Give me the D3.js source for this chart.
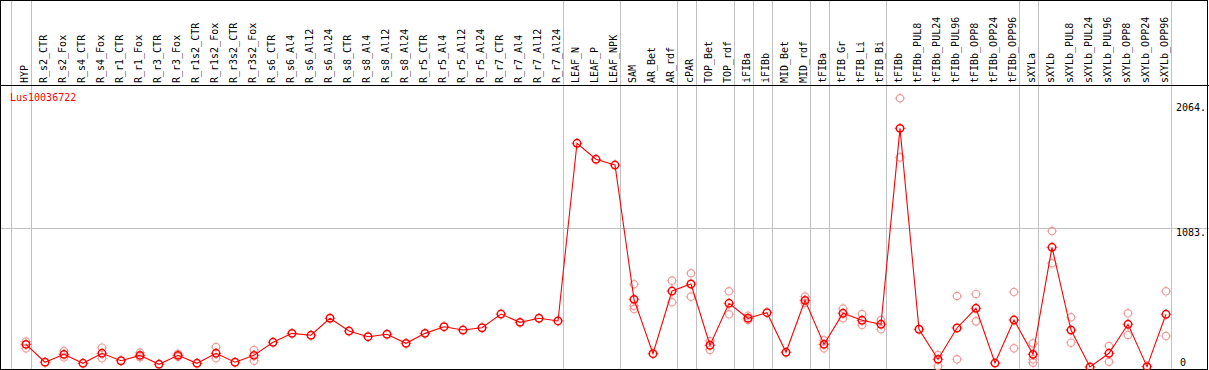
<!DOCTYPE html>
<html>
<head>
<meta charset="utf-8">
<script src="https://cdn.jsdelivr.net/npm/d3@7"></script>
<style>
  html, body { margin: 0; padding: 0; background: #fff; }
  svg { display: block; }
  text { font-family: "DejaVu Sans Mono", "Liberation Mono", monospace; font-size: 10px; }
</style>
</head>
<body>
<div id="chart"></div>
<script>
// sample names (one column each)
const samples = ["HYP",
  "R_s2_CTR", "R_s2_Fox", "R_s4_CTR", "R_s4_Fox", "R_r1_CTR", "R_r1_Fox", "R_r3_CTR", "R_r3_Fox",
  "R_r1s2_CTR", "R_r1s2_Fox", "R_r3s2_CTR", "R_r3s2_Fox",
  "R_s6_CTR", "R_s6_Al4", "R_s6_Al12", "R_s6_Al24", "R_s8_CTR", "R_s8_Al4", "R_s8_Al12", "R_s8_Al24",
  "R_r5_CTR", "R_r5_Al4", "R_r5_Al12", "R_r5_Al24", "R_r7_CTR", "R_r7_Al4", "R_r7_Al12", "R_r7_Al24",
  "LEAF_N", "LEAF_P", "LEAF_NPK", "SAM", "AR_Bet", "AR_rdf", "cPAR", "TOP_Bet", "TOP_rdf",
  "iFIBa", "iFIBb", "MID_Bet", "MID_rdf", "tFIBa", "tFIB_Gr", "tFIB_Li", "tFIB_Bi",
  "tFIBb", "tFIBb_PUL8", "tFIBb_PUL24", "tFIBb_PUL96", "tFIBb_OPP8", "tFIBb_OPP24", "tFIBb_OPP96",
  "sXYLa", "sXYLb", "sXYLb_PUL8", "sXYLb_PUL24", "sXYLb_PUL96", "sXYLb_OPP8", "sXYLb_OPP24", "sXYLb_OPP96"];

// mean expression per sample
const means = [177,
  37, 99, 29, 107, 49, 91, 21, 91,
  29, 107, 37, 91,
  193, 263, 248, 381, 281, 237, 256, 185,
  263, 315, 289, 307, 414, 349, 381, 360,
  1749, 1624, 1579, 529, 104, 594, 649, 170, 498,
  381, 425, 115, 521, 177, 420, 365, 334,
  1866, 295, 60, 305, 459, 31, 367,
  99, 936, 289, 0, 107, 334, 3, 412];

// individual replicates (only where they show apart from the mean)
const replicates = [[198, 146],
  [], [125, 76], [], [151, 68], [], [112, 76], [], [104, 80],
  [], [156, 68], [], [133, 49],
  [], [], [], [], [], [], [], [],
  [], [], [], [], [], [], [], [],
  [], [], [], [647, 479, 453], [], [675, 506], [733, 550], [203, 133], [592, 412],
  [401, 367], [], [], [550, 500], [208, 146], [456, 381], [414, 328], [367, 295],
  [2101, 1639], [], [94, 8], [555, 60], [571, 357], [], [586, 146],
  [185, 60, 34], [1063, 811], [389, 190], [], [164, 41], [420, 250], [], [592, 242]];

// group separators: index of the last column of each group (-1 = before the first)
const separatorsAfter = [-1, 0, 28, 31, 34, 35, 37, 38, 39, 41, 42, 45, 52, 53, 60];

const yTicks = [0, 1083, 2064];
const yTickLabels = ["0", "1083.", "2064."];
const geneName = "Lus10036722";

const W = 1209, H = 370;
const headerBottom = 85;

const svg = d3.select("#chart").append("svg")
  .attr("width", W).attr("height", H);

const x = d3.scalePoint().domain(samples).range([26, 1166]);
const y = d3.scaleLinear().domain([0, 2064]).range([367, 103]);

// vertical separators
svg.append("g").selectAll("line").data(separatorsAfter).enter().append("line")
  .attr("x1", d => d < 0 ? x(samples[0]) - 15 : x(samples[d]) + 5)
  .attr("x2", d => d < 0 ? x(samples[0]) - 15 : x(samples[d]) + 5)
  .attr("y1", 0).attr("y2", H)
  .attr("stroke", "#c0c0c0").attr("stroke-width", 1)
  .attr("shape-rendering", "crispEdges");

// horizontal grid line at the middle tick
svg.append("line")
  .attr("x1", 0).attr("x2", W)
  .attr("y1", Math.round(y(yTicks[1])) + 0.5).attr("y2", Math.round(y(yTicks[1])) + 0.5)
  .attr("stroke", "#c0c0c0").attr("stroke-width", 1)
  .attr("shape-rendering", "crispEdges");

// frame and header line
svg.append("rect")
  .attr("x", 0.5).attr("y", 0.5).attr("width", W - 2).attr("height", H - 1.5)
  .attr("fill", "none").attr("stroke", "#000").attr("stroke-width", 1)
  .attr("shape-rendering", "crispEdges");
svg.append("line")
  .attr("x1", 0).attr("x2", W).attr("y1", headerBottom + 0.5).attr("y2", headerBottom + 0.5)
  .attr("stroke", "#000").attr("stroke-width", 1.5)
  .attr("shape-rendering", "crispEdges");

// rotated column labels
svg.append("g").selectAll("text").data(samples).enter().append("text")
  .attr("transform", d => "translate(" + (x(d) + 1.5) + "," + (headerBottom - 2) + ") rotate(-90)")
  .attr("text-anchor", "start")
  .attr("fill", "#000")
  .text(d => d);

// gene name
svg.append("text")
  .attr("x", 10).attr("y", 101)
  .attr("fill", "#ff0000")
  .text(geneName);

// y tick labels on the right
svg.append("g").selectAll("text").data(yTicks).enter().append("text")
  .attr("x", (d, i) => i === 0 ? 1180 : 1176)
  .attr("y", d => Math.min(y(d) + 8, 366))
  .attr("fill", "#000")
  .text((d, i) => yTickLabels[i]);

// ring with small ticks at the four sides
function ring(g, cx, cy, color, sw) {
  const r = 3.7;
  g.append("circle").attr("cx", cx).attr("cy", cy).attr("r", r)
    .attr("fill", "none").attr("stroke", color).attr("stroke-width", sw);
  [[0, -1], [0, 1], [-1, 0], [1, 0]].forEach(([dx, dy]) => {
    g.append("line")
      .attr("x1", cx + dx * (r + 0.5)).attr("y1", cy + dy * (r + 0.5))
      .attr("x2", cx + dx * (r + 1.6)).attr("y2", cy + dy * (r + 1.6))
      .attr("stroke", color).attr("stroke-width", 0.9);
  });
}

// replicate rings (light)
const repLayer = svg.append("g");
replicates.forEach((vals, i) => {
  vals.forEach(v => ring(repLayer, x(samples[i]), y(v), "#f09a9a", 1.2));
});

// mean line
const line = d3.line().x((d, i) => x(samples[i])).y(d => y(d));
svg.append("path").datum(means)
  .attr("d", line)
  .attr("fill", "none").attr("stroke", "#ff0000").attr("stroke-width", 1.1);

// mean rings
const meanLayer = svg.append("g");
means.forEach((v, i) => ring(meanLayer, x(samples[i]), y(v), "#ff0000", 1.5));
</script>
</body>
</html>
